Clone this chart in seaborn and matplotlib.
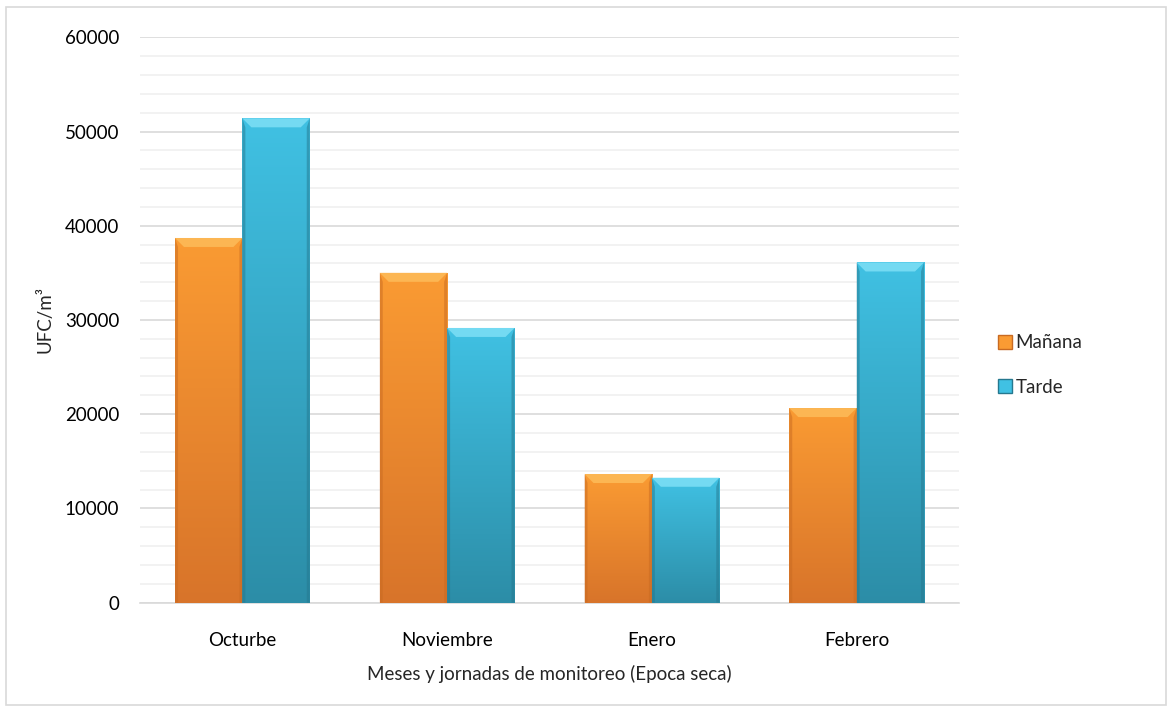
import numpy as np
import pandas as pd
import matplotlib
matplotlib.use("Agg")
import matplotlib.pyplot as plt
import seaborn as sns
from matplotlib.patches import Polygon, Rectangle, Patch
from matplotlib.colors import to_rgb

months = ["Octurbe", "Noviembre", "Enero", "Febrero"]
manana = [38700, 35000, 13650, 20650]
tarde = [51400, 29150, 13250, 36100]
series = ["Mañana", "Tarde"]
yticks = [0, 10000, 20000, 30000, 40000, 50000, 60000]

df = pd.DataFrame({
    "mes": months * 2,
    "valor": manana + tarde,
    "jornada": [series[0]] * len(months) + [series[1]] * len(months),
})

sns.set_theme(style="white")
plt.rcParams["font.family"] = ["Lato", "DejaVu Sans"]

W, H = 1172, 712
fig = plt.figure(figsize=(W / 100, H / 100), dpi=100)
ax = fig.add_axes([140 / W, 1 - 602.6 / H, (959 - 140) / W, (602.6 - 37.3) / H])

palette = {"Mañana": "#F7932F", "Tarde": "#3BB8DC"}
sns.barplot(data=df, x="mes", y="valor", hue="jornada", palette=palette,
            width=0.658, gap=0, ax=ax, legend=False, saturation=1,
            edgecolor="none", zorder=3)

grad = {
    "Mañana": ("#FA9B33", "#D8742A", "#FCB653", "#C86A22"),
    "Tarde": ("#40C1E3", "#2C8DA7", "#74DAF2", "#25788F"),
}
ymax = 60000
px_y = ymax / (602.6 - 37.3)
px_x = 4.0 / (959 - 140)
for i, p in enumerate(ax.patches):
    key = series[0] if i < len(months) else series[1]
    top, bot, bev, side = grad[key]
    x, w, h = p.get_x(), p.get_width(), p.get_height()
    if h <= 0:
        continue
    c1, c2 = np.array(to_rgb(top)), np.array(to_rgb(bot))
    t = np.linspace(0, 1, 256)[:, None]
    img = (c1 * (1 - t) + c2 * t)[:, None, :]
    img = np.repeat(img, 2, axis=1)
    ax.imshow(img, extent=[x, x + w, 0, h], aspect="auto", zorder=3.5,
              origin="upper", interpolation="bilinear")
    dx, dy = 9 * px_x, 9 * px_y
    ax.add_patch(Polygon([(x, h), (x + w, h), (x + w - dx, h - dy), (x + dx, h - dy)],
                         closed=True, facecolor=bev, edgecolor="none", zorder=4))
    sdx = 3 * px_x
    ax.add_patch(Polygon([(x, 0), (x, h), (x + sdx, h - dy), (x + sdx, 0)],
                         closed=True, facecolor=side, edgecolor="none", alpha=0.5, zorder=4))
    ax.add_patch(Polygon([(x + w, 0), (x + w, h), (x + w - sdx, h - dy), (x + w - sdx, 0)],
                         closed=True, facecolor=side, edgecolor="none", alpha=0.5, zorder=4))

ax.set_xlim(-0.5, len(months) - 0.5)
ax.set_ylim(0, ymax)
ax.set_yticks(yticks)
ax.set_yticks(np.arange(0, ymax + 1, 2000), minor=True)
ax.yaxis.grid(True, which="major", color="#D9D9D9", linewidth=1.2, zorder=0)
ax.yaxis.grid(True, which="minor", color="#F0F0F0", linewidth=1.2, zorder=0)
ax.set_axisbelow(True)
for s in ["top", "right", "left"]:
    ax.spines[s].set_visible(False)
ax.spines["bottom"].set_color("#D9D9D9")
ax.spines["bottom"].set_linewidth(1.2)
ax.tick_params(axis="both", which="both", length=0, labelsize=13.5, colors="black")
ax.tick_params(axis="y", pad=15)
ax.tick_params(axis="x", pad=21)
ax.set_ylabel("UFC/m³", fontsize=13.5, labelpad=8)
ax.set_xlabel("Meses y jornadas de monitoreo (Epoca seca)", fontsize=13.5, labelpad=12)

handles = [Patch(facecolor=grad[s][0], edgecolor=grad[s][3]) for s in series]
fig.legend(handles, series, loc="center left", bbox_to_anchor=(990 / W, 1 - 365 / H),
           frameon=False, fontsize=13.5, handlelength=0.75, handleheight=0.75,
           handletextpad=0.2, labelspacing=1.45, borderaxespad=0)

fig.add_artist(Rectangle((6 / W, 1 - 705 / H), (1166 - 6) / W, (705 - 7) / H,
                         transform=fig.transFigure, fill=False,
                         edgecolor="#D9D9D9", linewidth=1.2))

fig.savefig("out.png", dpi=100, facecolor="white")
